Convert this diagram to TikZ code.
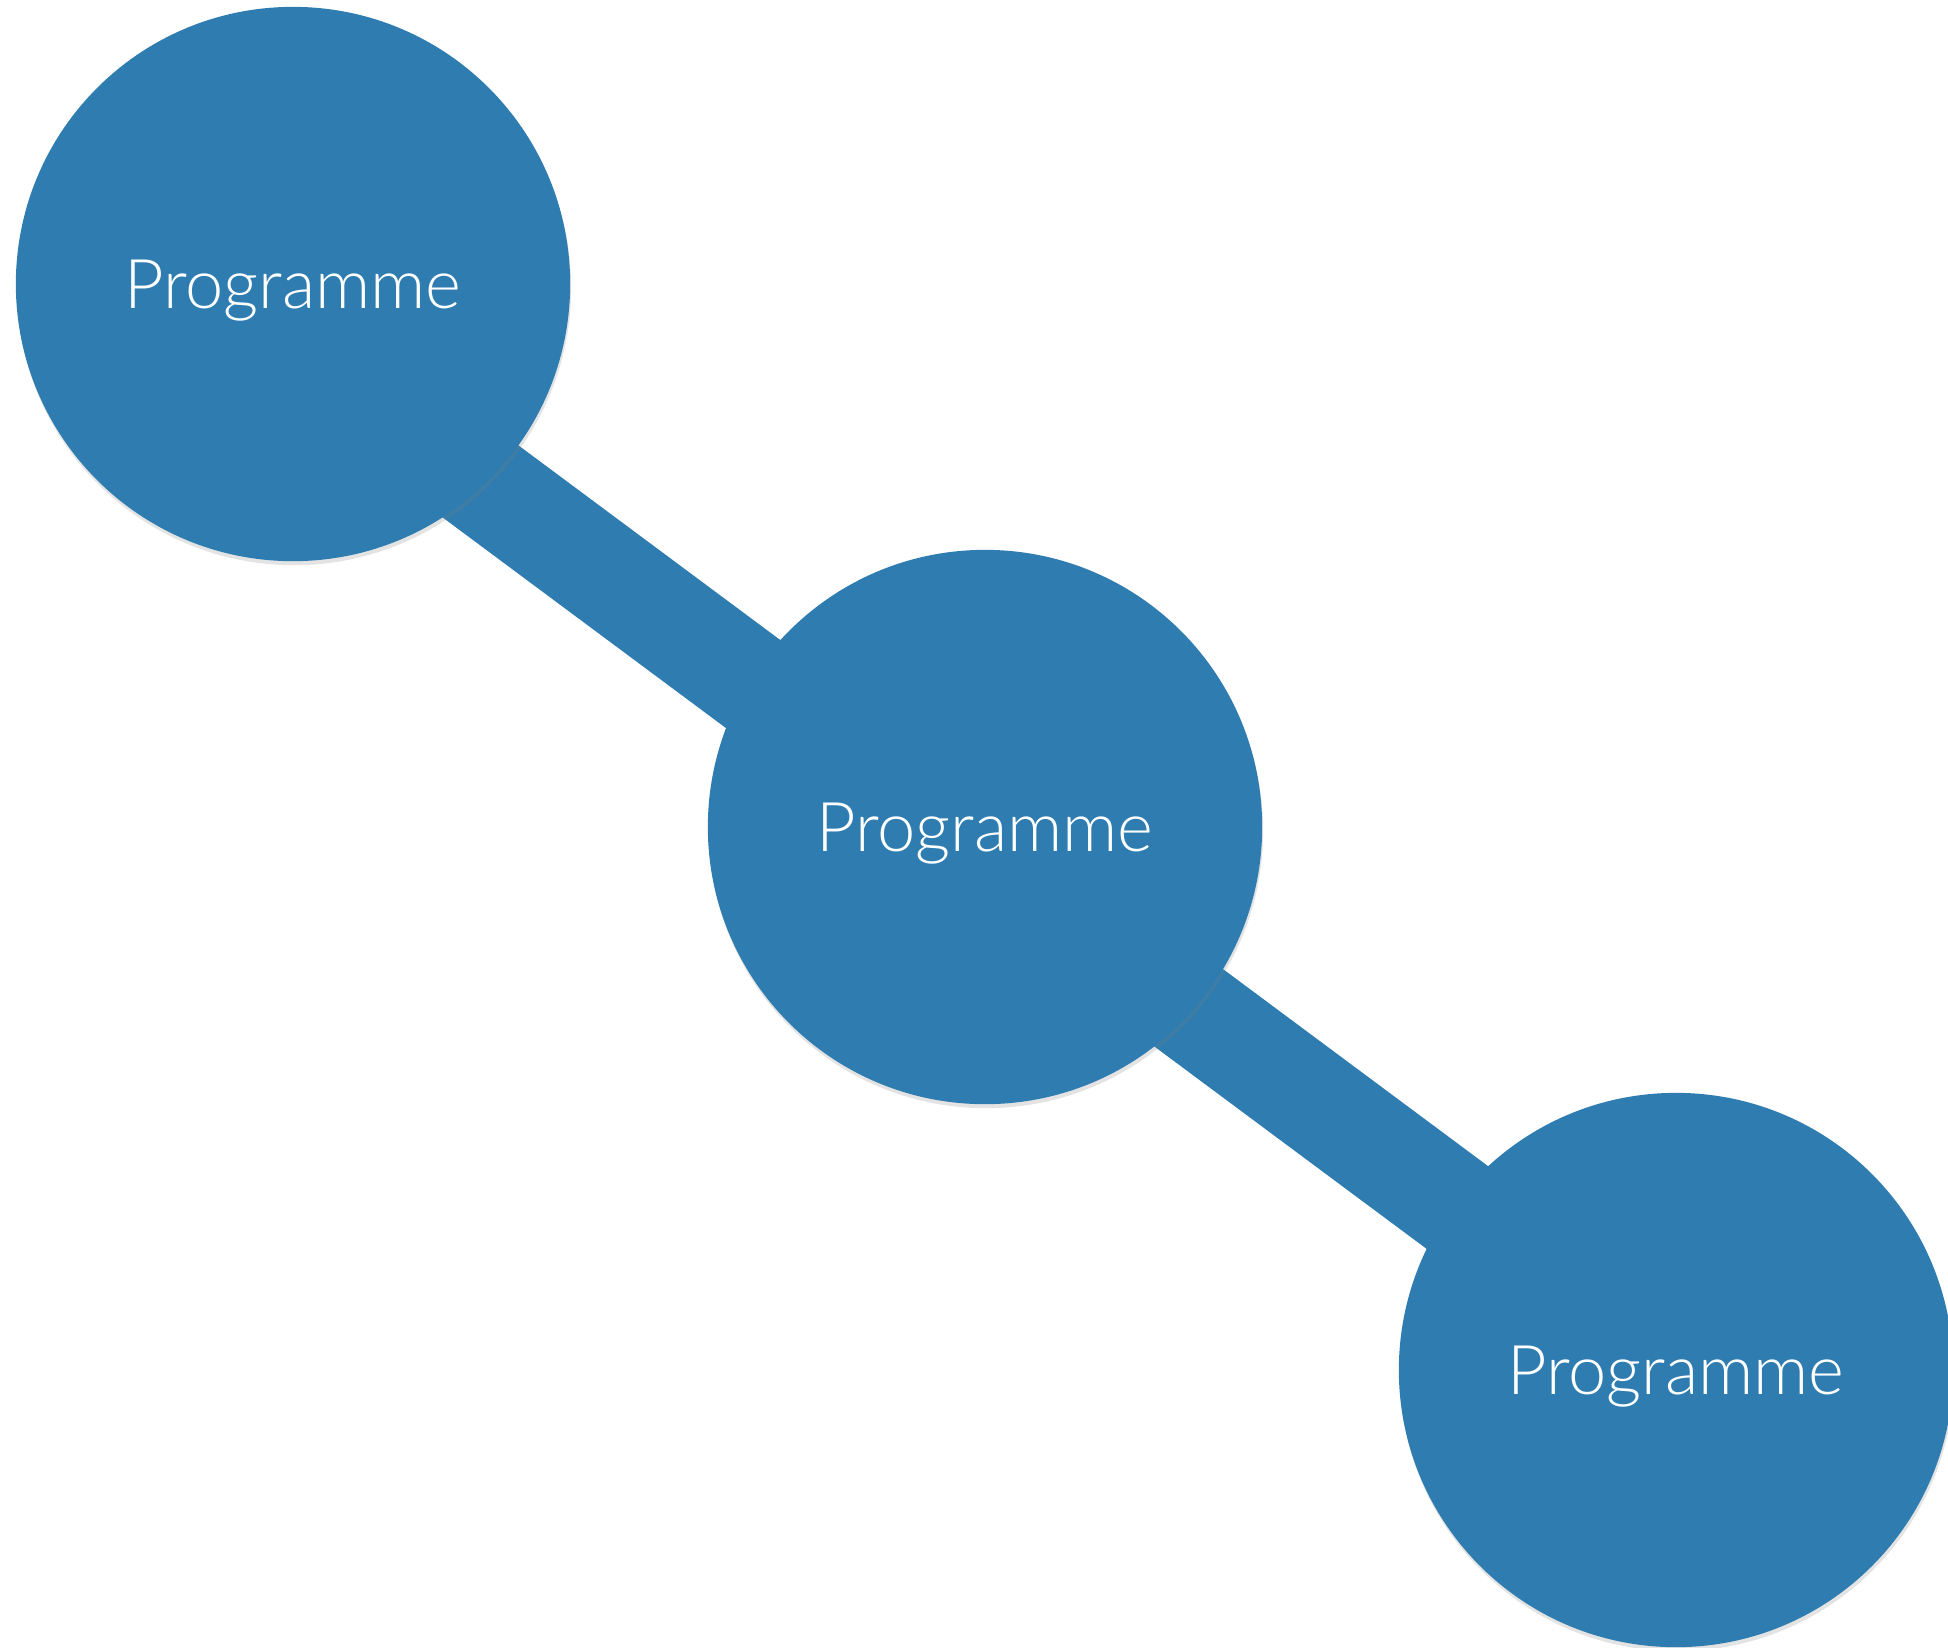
\documentclass[tikz,border=0pt]{standalone}
\usepackage{fontspec}
\setmainfont{Lato}[UprightFont={* Light}]
\usepackage{tikz}
\usetikzlibrary{shadows, backgrounds}

\definecolor{feltblue}{RGB}{47,125,176}

\tikzset{
  bubble/.style={circle, fill=feltblue, minimum size=5.54cm, inner sep=0pt,
    text=white, text depth=0pt, font=\fontsize{19.5}{24}\selectfont,
    drop shadow={opacity=0.22, shadow xshift=0.01cm, shadow yshift=-0.04cm}},
  link/.style={draw=feltblue, line width=1.03cm}
}

\begin{document}
\begin{tikzpicture}[x=0.01cm, y=-0.01cm]
\useasboundingbox (0,0) rectangle (1948,1647);

% the three programmes
\node[bubble] (prog1) at (293,284) {Programme};
\node[bubble] (prog2) at (985,827) {Programme};
\node[bubble] (prog3) at (1676,1370) {Programme};

% one bar behind them, a little below the first centre
\coordinate (barstart) at (293,342);
\begin{pgfonlayer}{background}
\draw[link] (barstart) -- (prog3.center);
\end{pgfonlayer}
\end{tikzpicture}
\end{document}
